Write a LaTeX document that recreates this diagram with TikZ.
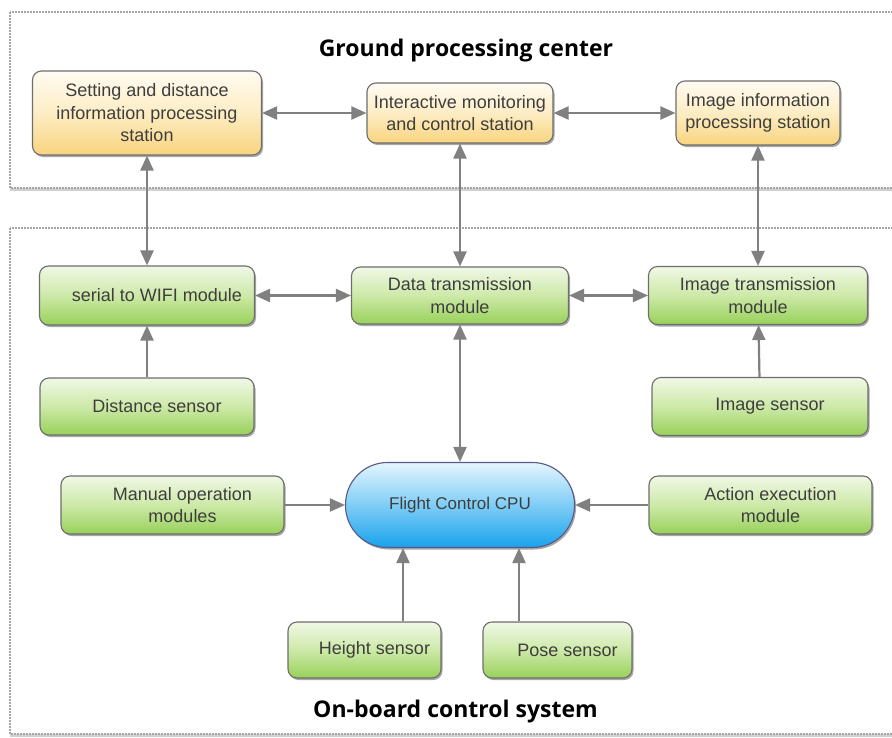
\documentclass[tikz,border=0pt]{standalone}
\usepackage{fontspec}
\setmainfont{Liberation Sans}
\newfontfamily\titlefont{Open Sans}
\usetikzlibrary{arrows.meta,shadows}
\definecolor{ytop}{HTML}{FFFBF2}
\definecolor{ymid}{HTML}{FDEDC4}
\definecolor{ybot}{HTML}{F8D47E}
\definecolor{gtop}{HTML}{F0F8E6}
\definecolor{gmid}{HTML}{CDE9A8}
\definecolor{gbot}{HTML}{98D15A}
\definecolor{btop}{HTML}{E4F5FE}
\definecolor{bmid}{HTML}{7FCDF6}
\definecolor{bbot}{HTML}{18A2EC}
\definecolor{boxgray}{HTML}{6E6E6E}
\definecolor{txtgray}{HTML}{3E3E3E}
\definecolor{arrgray}{HTML}{808080}
\definecolor{contgray}{HTML}{A6A6A6}
\begin{document}
\begin{tikzpicture}[x=1pt,y=-1pt,
  box/.style={draw=boxgray, line width=1.1pt, rounded corners=9pt, inner sep=0pt,
    align=center, font=\fontsize{18}{22.5}\selectfont, text=txtgray,
    drop shadow={shadow xshift=1.5pt, shadow yshift=-2pt, opacity=0.35, fill=black}},
  lbl/.style={align=center, font=\fontsize{18}{22.5}\selectfont, text=txtgray, inner sep=0pt},
  ybox/.style={box, top color=ytop, bottom color=ybot, middle color=ymid},
  gbox/.style={box, top color=gtop, bottom color=gbot, middle color=gmid},
  cpubox/.style={box, rounded corners=42pt, draw=boxgray!80!blue, top color=btop, bottom color=bbot, middle color=bmid},
  container/.style={draw=contgray, line width=1.2pt, dash pattern=on 2pt off 1pt, fill=white,
    drop shadow={shadow xshift=0pt, shadow yshift=-2.5pt, opacity=0.18, fill=black}},
  ttl/.style={font=\titlefont\bfseries\fontsize{23}{27}\selectfont, text=black, inner sep=0pt},
  dbl/.style={draw=arrgray, line width=2.2pt, {Triangle[length=15pt,width=13pt]}-{Triangle[length=15pt,width=13pt]}},
  sgl/.style={draw=arrgray, line width=2.2pt, -{Triangle[length=15pt,width=13pt]}}
]
\clip (0,0) rectangle (892,737);
\fill[white] (0,0) rectangle (892,737);
% containers
\draw[container] (10,12) rectangle (910,188);
\draw[container] (10,228) rectangle (910,734);
% titles
\node[ttl, anchor=base] (gtitle) at (466,56) {Ground processing center};
\node[ttl, anchor=base] (otitle) at (455.5,717) {On-board control system};
% ground nodes
\node[ybox, minimum width=229pt, minimum height=84pt] (setting) at (147,113) {Setting and distance\\information processing\\station};
\node[ybox, minimum width=186pt, minimum height=60pt] (inter) at (460,113) {Interactive monitoring\\and control station};
\node[ybox, minimum width=164pt, minimum height=64pt] (imginfo) at (758,113) {Image information\\processing station};
% on-board nodes
\node[gbox, minimum width=215pt, minimum height=59pt, label={[lbl,xshift=10pt]center:serial to WIFI module}] (serial) at (147,295.5) {};
\node[gbox, minimum width=217pt, minimum height=57pt] (data) at (460,295.5) {Data transmission\\module};
\node[gbox, minimum width=219pt, minimum height=58pt] (imgtrans) at (758,295.5) {Image transmission\\module};
\node[gbox, minimum width=214pt, minimum height=57pt, label={[lbl,xshift=10pt]center:Distance sensor}] (distance) at (147,406.5) {};
\node[gbox, minimum width=216pt, minimum height=58pt, label={[lbl,xshift=10pt]center:Image sensor}] (imgsensor) at (760,406.5) {};
\node[cpubox, minimum width=229pt, minimum height=85pt, font=\fontsize{17}{21}\selectfont] (cpu) at (460,505) {Flight Control CPU};
\node[gbox, minimum width=223pt, minimum height=58pt, label={[lbl,xshift=10pt]center:{Manual operation\\modules}}] (manual) at (172.5,505) {};
\node[gbox, minimum width=223pt, minimum height=58pt, label={[lbl,xshift=10pt]center:{Action execution\\module}}] (action) at (760.5,505) {};
\node[gbox, minimum width=153pt, minimum height=56pt, label={[lbl,xshift=10pt]center:Height sensor}] (height) at (364.5,650) {};
\node[gbox, minimum width=149pt, minimum height=56pt, label={[lbl,xshift=10pt]center:Pose sensor}] (pose) at (557.5,650) {};
% connectors
\draw[dbl] (setting) -- (inter);
\draw[dbl] (inter) -- (imginfo);
\draw[dbl] (setting) -- (serial);
\draw[dbl] (inter) -- (data);
\draw[dbl] (imginfo) -- (imgtrans);
\draw[dbl] (serial) -- (data);
\draw[dbl] (data) -- (imgtrans);
\draw[sgl] (distance) -- (serial);
\draw[sgl] (imgsensor) -- (imgtrans);
\draw[dbl] (data) -- (cpu);
\draw[sgl] (manual) -- (cpu);
\draw[sgl] (action) -- (cpu);
\draw[sgl] ([xshift=38.5pt]height.north) -- ([xshift=38.5pt]height.north |- cpu.south);
\draw[sgl] ([xshift=-38.5pt]pose.north) -- ([xshift=-38.5pt]pose.north |- cpu.south);
\end{tikzpicture}
\end{document}
